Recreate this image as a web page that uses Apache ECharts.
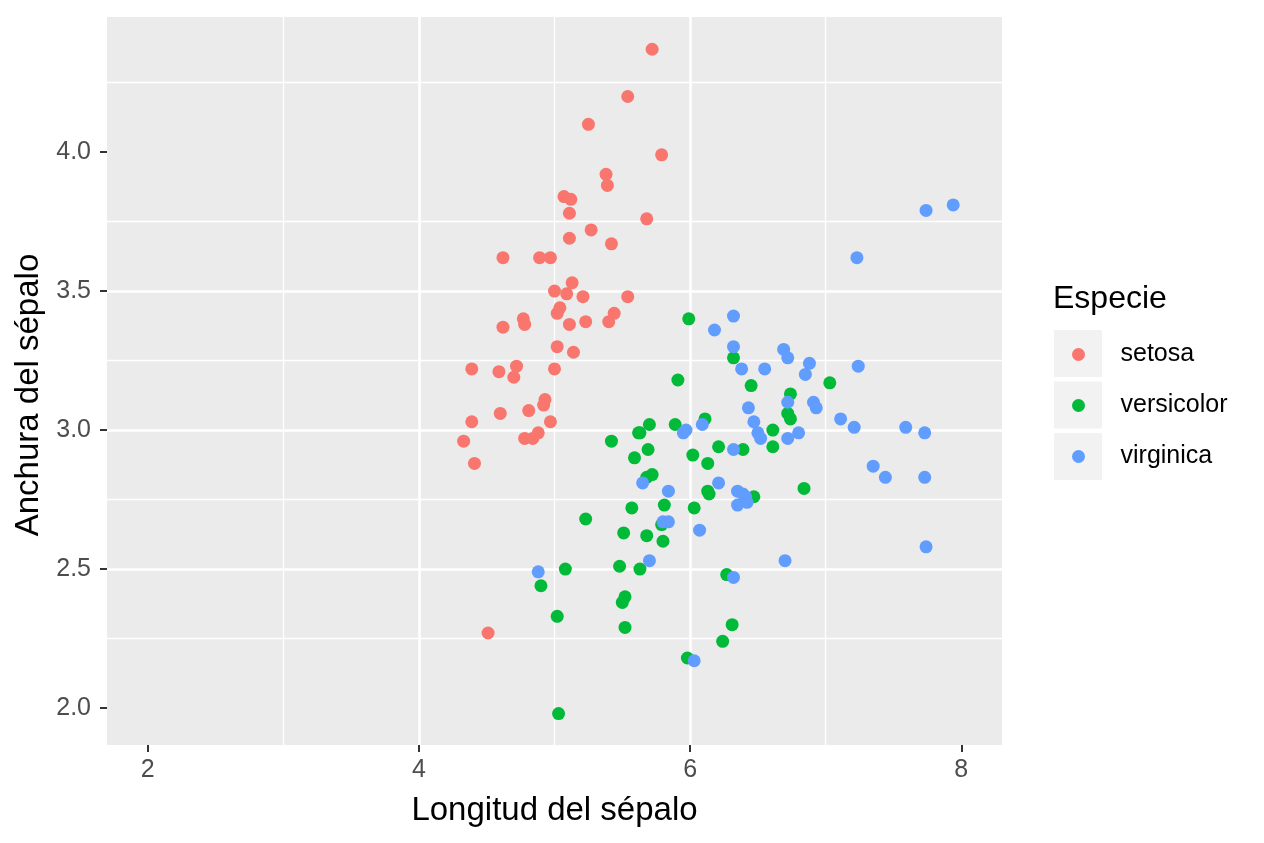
<!DOCTYPE html>
<html>
<head>
<meta charset="utf-8">
<title>Iris sépalo</title>
<script src="https://cdn.jsdelivr.net/npm/echarts@6/dist/echarts.min.js"></script>
<style>
  html, body { margin: 0; padding: 0; background: #fff; }
  #chart { width: 1264px; height: 843px; }
</style>
</head>
<body>
<div id="chart"></div>
<script>
// valores (con jitter)
const species = ["setosa", "versicolor", "virginica"];
const colors = ["#F8766D", "#00BA38", "#619CFF"];

const setosaLength = [5.72, 5.54, 5.25, 5.79, 5.38, 5.39, 5.07, 5.12, 5.11, 5.68,
  5.27, 5.11, 5.42, 4.62, 4.89, 4.97, 5.13, 5.00, 5.09, 5.21,
  5.54, 5.04, 5.02, 5.44, 5.40, 4.62, 4.77, 4.78, 5.11, 5.23,
  5.02, 5.14, 4.39, 4.59, 4.72, 4.70, 5.00, 4.93, 4.92, 4.60,
  4.81, 4.39, 4.97, 4.33, 4.78, 4.84, 4.88, 4.41, 4.51];
const setosaWidth = [4.37, 4.20, 4.10, 3.99, 3.92, 3.88, 3.84, 3.83, 3.78, 3.76,
  3.72, 3.69, 3.67, 3.62, 3.62, 3.62, 3.53, 3.50, 3.49, 3.48,
  3.48, 3.44, 3.42, 3.42, 3.39, 3.37, 3.40, 3.38, 3.38, 3.39,
  3.30, 3.28, 3.22, 3.21, 3.23, 3.19, 3.22, 3.11, 3.09, 3.06,
  3.07, 3.03, 3.03, 2.96, 2.97, 2.97, 2.99, 2.88, 2.27];

const versicolorLength = [5.99, 6.32, 5.91, 6.45, 6.11, 5.70, 5.89, 5.62, 5.63, 5.42,
  6.61, 6.61, 5.69, 6.21, 6.39, 5.59, 6.02, 6.13, 5.72, 5.68,
  6.13, 6.14, 6.47, 5.23, 5.57, 5.81, 6.03, 5.79, 5.51, 5.68,
  5.80, 5.48, 5.63, 6.27, 5.52, 5.50, 5.52, 6.31, 6.24, 5.98,
  4.90, 5.08, 5.02, 5.03, 7.03, 6.74, 6.72, 6.74, 6.84];
const versicolorWidth = [3.40, 3.26, 3.18, 3.16, 3.04, 3.02, 3.02, 2.99, 2.99, 2.96,
  3.00, 2.94, 2.93, 2.94, 2.93, 2.90, 2.91, 2.88, 2.84, 2.83,
  2.78, 2.77, 2.76, 2.68, 2.72, 2.73, 2.72, 2.66, 2.63, 2.62,
  2.60, 2.51, 2.50, 2.48, 2.40, 2.38, 2.29, 2.30, 2.24, 2.18,
  2.44, 2.50, 2.33, 1.98, 3.17, 3.13, 3.06, 3.04, 2.79];

const virginicaLength = [6.32, 6.18, 6.32, 6.38, 6.55, 6.43, 6.47, 6.09, 5.95, 5.97,
  6.50, 6.52, 6.32, 5.65, 5.84, 6.21, 6.35, 6.39, 6.41, 6.35,
  6.42, 5.80, 5.84, 6.07, 5.70, 6.70, 6.32, 6.03, 4.88, 6.69,
  6.72, 6.88, 6.85, 6.72, 6.91, 6.93, 7.11, 6.72, 6.80, 7.94,
  7.74, 7.23, 7.24, 7.21, 7.59, 7.73, 7.35, 7.44, 7.73, 7.74];
const virginicaWidth = [3.41, 3.36, 3.30, 3.22, 3.22, 3.08, 3.03, 3.02, 2.99, 3.00,
  2.99, 2.97, 2.93, 2.81, 2.78, 2.81, 2.78, 2.77, 2.76, 2.73,
  2.74, 2.67, 2.67, 2.64, 2.53, 2.53, 2.47, 2.17, 2.49, 3.29,
  3.26, 3.24, 3.20, 3.10, 3.10, 3.08, 3.04, 2.97, 2.99, 3.81,
  3.79, 3.62, 3.23, 3.01, 3.01, 2.99, 2.87, 2.83, 2.83, 2.58];

const xTicks = [2, 4, 6, 8];
const yTicks = [2.0, 2.5, 3.0, 3.5, 4.0];

const font = "'Liberation Sans', Arial, Helvetica, sans-serif";

function zip(xs, ys) {
  return xs.map((x, i) => [x, ys[i]]);
}

const seriesData = [
  zip(setosaLength, setosaWidth),
  zip(versicolorLength, versicolorWidth),
  zip(virginicaLength, virginicaWidth)
];

const chart = echarts.init(document.getElementById("chart"));

const axisCommon = {
  type: "value",
  axisLine: { show: false },
  axisTick: { show: true, length: 7, lineStyle: { color: "#333333", width: 2 } },
  splitLine: { show: true, showMinLine: false, showMaxLine: false, lineStyle: { color: "#ffffff", width: 2.6 } },
  minorTick: { show: false, splitNumber: 2 },
  minorSplitLine: { show: true, lineStyle: { color: "#ffffff", width: 1.3 } },
  nameLocation: "middle"
};

const option = {
  animation: false,
  backgroundColor: "#ffffff",
  grid: {
    left: 107, top: 17, right: 262, bottom: 98,
    show: true, backgroundColor: "#EBEBEB", borderWidth: 0
  },
  title: {
    text: "Especie",
    left: 1053, top: 283, padding: 0,
    textStyle: { fontFamily: font, fontSize: 32, fontWeight: "normal", color: "#000000" }
  },
  legend: {
    orient: "vertical",
    left: 1067, top: 337,
    icon: "circle",
    itemWidth: 74, itemHeight: 13,
    itemGap: 26,
    data: species,
    textStyle: { fontFamily: font, fontSize: 25, color: "#000000", lineHeight: 25 }
  },
  graphic: species.map((s, i) => ({
    type: "rect",
    left: 1054, top: 330 + i * 51.5, z: -1,
    shape: { width: 48, height: 47 },
    style: { fill: "#F2F2F2" }
  })),
  xAxis: Object.assign({}, axisCommon, {
    min: 1.7, max: 8.3, splitNumber: 3,
    name: "Longitud del sépalo",
    nameGap: 49,
    nameTextStyle: { fontFamily: font, fontSize: 33, color: "#000000" },
    axisTick: Object.assign({}, axisCommon.axisTick, { customValues: xTicks }),
    axisLabel: {
      customValues: xTicks, margin: 13,
      fontFamily: font, fontSize: 25, color: "#4D4D4D"
    }
  }),
  yAxis: Object.assign({}, axisCommon, {
    min: 1.867, max: 4.486, splitNumber: 5,
    name: "Anchura del sépalo",
    nameGap: 58,
    nameTextStyle: { fontFamily: font, fontSize: 33, color: "#000000", padding: [0, 28, 0, 0] },
    axisTick: Object.assign({}, axisCommon.axisTick, { customValues: yTicks }),
    axisLabel: {
      customValues: yTicks, margin: 16,
      fontFamily: font, fontSize: 25, color: "#4D4D4D",
      formatter: (v) => Number(v).toFixed(1)
    }
  }),
  series: species.map((s, i) => ({
    name: s,
    type: "scatter",
    symbol: "circle",
    symbolSize: 13,
    itemStyle: { color: colors[i], opacity: 1 },
    data: seriesData[i]
  }))
};

chart.setOption(option);
</script>
</body>
</html>
